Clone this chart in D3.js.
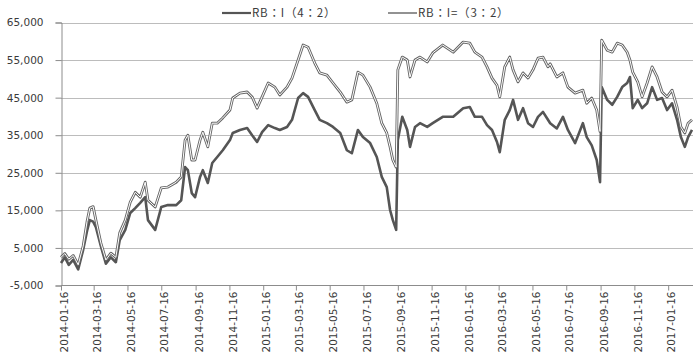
<!DOCTYPE html>
<html><head><meta charset="utf-8">
<script src="https://cdn.jsdelivr.net/npm/d3@7"></script>
<style>body{margin:0;background:#fff}svg{display:block}</style>
</head><body>
<script>
const seriesNames = ["RB：I（4：2）", "RB：I=（3：2）"];
const dates = ["2014-01-16","2014-01-23","2014-01-30","2014-02-07","2014-02-16","2014-02-25","2014-03-04","2014-03-09","2014-03-15","2014-03-20","2014-03-29","2014-04-07","2014-04-16","2014-04-25","2014-05-02","2014-05-12","2014-05-21","2014-05-30","2014-06-08","2014-06-17","2014-06-22","2014-07-05","2014-07-16","2014-07-28","2014-08-12","2014-08-21","2014-08-28","2014-09-02","2014-09-09","2014-09-15","2014-09-24","2014-09-29","2014-10-08","2014-10-16","2014-10-25","2014-11-04","2014-11-17","2014-11-22","2014-12-05","2014-12-18","2014-12-27","2015-01-05","2015-01-14","2015-01-25","2015-02-06","2015-02-15","2015-02-28","2015-03-09","2015-03-20","2015-03-29","2015-04-07","2015-04-19","2015-04-28","2015-05-11","2015-05-22","2015-06-04","2015-06-16","2015-06-25","2015-07-06","2015-07-15","2015-07-28","2015-08-09","2015-08-18","2015-08-27","2015-09-02","2015-09-07","2015-09-13","2015-09-16","2015-09-24","2015-10-03","2015-10-08","2015-10-17","2015-10-26","2015-11-08","2015-11-18","2015-12-06","2015-12-25","2016-01-12","2016-01-24","2016-02-02","2016-02-15","2016-02-24","2016-03-04","2016-03-13","2016-03-18","2016-03-27","2016-04-05","2016-04-11","2016-04-20","2016-04-29","2016-05-08","2016-05-17","2016-05-26","2016-06-04","2016-06-13","2016-06-17","2016-06-29","2016-07-10","2016-07-19","2016-08-01","2016-08-15","2016-08-22","2016-08-31","2016-09-09","2016-09-15","2016-09-18","2016-09-28","2016-10-07","2016-10-16","2016-10-25","2016-11-03","2016-11-08","2016-11-13","2016-11-22","2016-11-30","2016-12-09","2016-12-18","2016-12-27","2017-01-05","2017-01-14","2017-01-23","2017-02-01","2017-02-08","2017-02-15","2017-02-21","2017-02-28"];
const seriesA = [1000,2500,500,1800,-700,4500,9500,12400,12000,10500,5500,800,2500,1200,7100,9800,14300,15600,17000,18500,12400,9800,15900,16400,16400,17700,26500,25700,19600,18500,23900,25700,22300,27600,29200,31000,33700,35600,36400,36900,35000,33200,35800,37700,36900,36400,37200,39100,44900,46200,45200,41700,39100,38200,37200,35600,31000,30200,36400,34500,32900,29200,23900,21200,15100,12400,9800,33700,39900,36400,31900,37200,38200,37200,38200,39900,39900,42200,42500,39900,39900,37700,36400,33200,30500,39100,41700,44400,39100,42200,38200,37200,39900,41200,39100,38200,36800,39900,36400,32900,38200,34500,32300,28400,22500,47800,44400,43100,45200,47800,48900,50500,42200,44400,42200,43500,47800,44400,44900,41700,43500,39100,34500,31900,34500,36400];
const seriesB = [2500,3500,2000,3000,500,5500,12000,15600,16000,12400,6300,1800,3600,2500,9000,12400,17200,19800,18500,22500,17700,15900,21000,21200,22500,23900,33700,35000,28400,28400,33700,35800,31900,38200,38200,39600,41700,44900,46200,46500,45200,42200,45200,48900,47800,45700,47800,50200,55000,59000,58400,54200,51600,51000,48900,46500,43800,44400,51800,51000,47800,43500,38200,35600,31900,28400,26500,52400,55800,55000,50500,55000,55800,54500,56900,59000,57100,59800,59500,57100,55800,53200,50200,48300,45200,53200,55800,52400,49200,51600,50200,52400,55500,55800,53200,54000,50500,51600,47800,46200,47000,43500,44900,41700,36000,60300,57600,57100,59500,59000,57100,55000,51800,49200,45200,48900,53200,50500,46500,45200,47000,42500,37200,35600,38200,39100];
const yTicks = [-5000,5000,15000,25000,35000,45000,55000,65000];
const xTickLabels = ["2014-01-16","2014-03-16","2014-05-16","2014-07-16","2014-09-16","2014-11-16","2015-01-16","2015-03-16","2015-05-16","2015-07-16","2015-09-16","2015-11-16","2016-01-16","2016-03-16","2016-05-16","2016-07-16","2016-09-16","2016-11-16","2017-01-16"];

const W = 700, H = 352;
const parse = d3.timeParse("%Y-%m-%d");
const svg = d3.select("body").append("svg").attr("width", W).attr("height", H);
const x = d3.scaleTime().domain([parse(dates[0]), parse(dates[dates.length-1])]).range([61, 692]);
const y = d3.scaleLinear().domain([-5000, 65000]).range([285.5, 22.5]);
const font = "'DejaVu Sans', Verdana, sans-serif";
const fmt = d3.formatLocale({decimal: ".", thousands: ",", grouping: [3], currency: ["", ""], minus: "-"}).format(",");

// gridlines
svg.append("g").selectAll("line").data(yTicks.slice(1)).join("line")
  .attr("x1", 61).attr("x2", 693)
  .attr("y1", d => Math.round(y(d)) + 0.5).attr("y2", d => Math.round(y(d)) + 0.5)
  .attr("stroke", "#bcbcbc").attr("stroke-width", 1);

// y axis
const yAxis = svg.append("g").attr("transform", "translate(61.5,0)")
  .call(d3.axisLeft(y).tickValues(yTicks).tickSize(6).tickPadding(12).tickFormat(fmt));
yAxis.select(".domain").attr("stroke", "#8c8c8c");
yAxis.selectAll(".tick line").attr("stroke", "#8c8c8c");
yAxis.selectAll("text").attr("font-family", font).attr("font-size", 10.5).attr("fill", "#3a3a3a");

// x axis
const xAxis = svg.append("g").attr("transform", "translate(0,285.5)")
  .call(d3.axisBottom(x).tickValues(xTickLabels.map(parse)).tickSize(5).tickSizeOuter(0).tickFormat(d3.timeFormat("%Y-%m-%d")));
xAxis.select(".domain").attr("stroke", "#8c8c8c").attr("d", "M61,0H693");
xAxis.selectAll(".tick line").attr("stroke", "#8c8c8c");
xAxis.selectAll("text").attr("font-family", font).attr("font-size", 10.5).attr("fill", "#3a3a3a")
  .attr("transform", "rotate(-90)").attr("text-anchor", "end").attr("x", -6).attr("y", 3).attr("dy", "0.35em");

const dataA = dates.map((d, i) => ({d: parse(d), v: seriesA[i]}));
const dataB = dates.map((d, i) => ({d: parse(d), v: seriesB[i]}));
const line = d3.line().x(p => x(p.d)).y(p => y(p.v));

svg.append("path").datum(dataA).attr("d", line).attr("fill", "none")
  .attr("stroke", "#555").attr("stroke-width", 2.6).attr("stroke-linejoin", "round");
svg.append("path").datum(dataB).attr("d", line).attr("fill", "none")
  .attr("stroke", "#666").attr("stroke-width", 2.8).attr("stroke-linejoin", "round");
svg.append("path").datum(dataB).attr("d", line).attr("fill", "none")
  .attr("stroke", "#ffffff").attr("stroke-width", 1).attr("stroke-linejoin", "round");

// legend
const legend = [{name: seriesNames[0], x0: 222, color: "#555", w: 2.2}, {name: seriesNames[1], x0: 388, color: "#777", w: 1.6}];
const lg = svg.append("g").selectAll("g").data(legend).join("g");
lg.append("line").attr("x1", d => d.x0).attr("x2", d => d.x0 + 29).attr("y1", 13).attr("y2", 13)
  .attr("stroke", d => d.color).attr("stroke-width", d => d.w);
lg.append("text").attr("x", d => d.x0 + 30).attr("y", 13).attr("dy", "0.35em")
  .attr("font-family", "'Noto Sans CJK TC', 'DejaVu Sans', sans-serif").attr("font-size", 11.5)
  .attr("letter-spacing", 0.8).attr("fill", "#3a3a3a")
  .text(d => d.name);
</script>
</body></html>
